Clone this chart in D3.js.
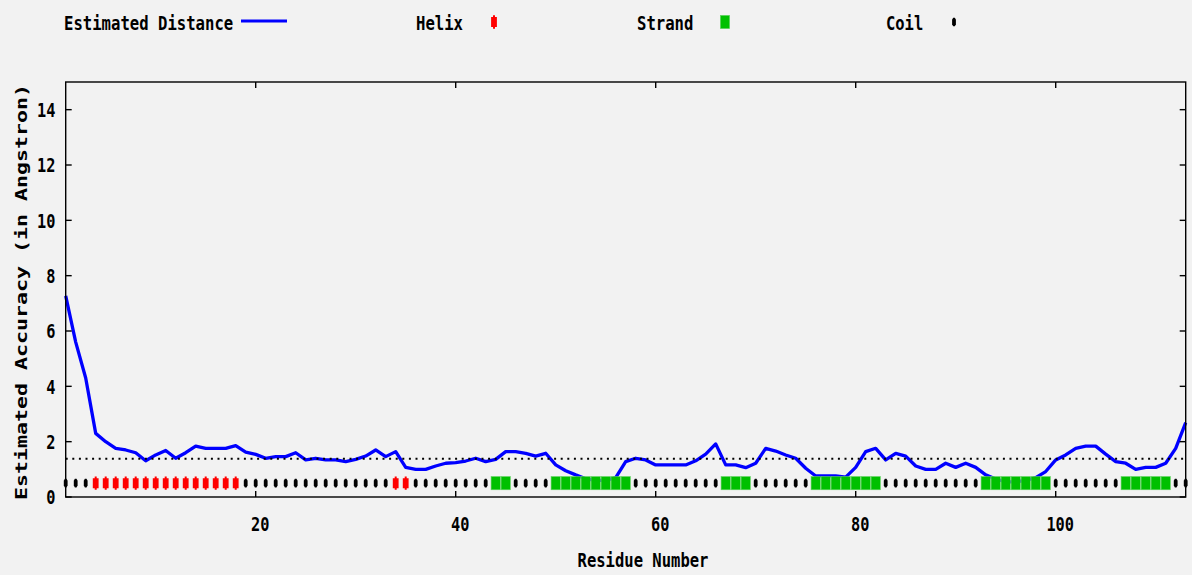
<!DOCTYPE html>
<html>
<head>
<meta charset="utf-8">
<script src="https://cdn.jsdelivr.net/npm/d3@7"></script>
<style>
  html, body { margin: 0; padding: 0; background: #f2f2f2; }
  svg { display: block; }
  text { font-family: "DejaVu Sans Mono", "Liberation Mono", monospace; font-weight: bold; fill: #000; }
</style>
</head>
<body>
<svg id="chart" width="1192" height="575"></svg>
<script>
// Estimated model distance per residue (Angstrom)
const residues = d3.range(1, 114);
const distance = [
  7.27, 5.6, 4.3, 2.3, 2.0, 1.76, 1.70, 1.60, 1.31, 1.52,
  1.68, 1.40, 1.60, 1.84, 1.76, 1.76, 1.76, 1.86, 1.62, 1.54,
  1.40, 1.46, 1.46, 1.60, 1.34, 1.40, 1.34, 1.34, 1.28, 1.36,
  1.48, 1.70, 1.46, 1.64, 1.07, 1.00, 1.00, 1.12, 1.22, 1.24,
  1.30, 1.40, 1.28, 1.36, 1.64, 1.64, 1.58, 1.48, 1.58, 1.16,
  0.95, 0.80, 0.66, 0.60, 0.60, 0.70, 1.28, 1.40, 1.34, 1.16,
  1.16, 1.16, 1.16, 1.31, 1.55, 1.92, 1.16, 1.16, 1.06, 1.22,
  1.76, 1.66, 1.52, 1.40, 1.04, 0.76, 0.76, 0.76, 0.72, 1.07,
  1.64, 1.76, 1.34, 1.58, 1.48, 1.12, 1.00, 1.00, 1.22, 1.07,
  1.22, 1.07, 0.80, 0.65, 0.55, 0.55, 0.60, 0.70, 0.92, 1.34,
  1.52, 1.76, 1.84, 1.84, 1.55, 1.28, 1.22, 1.00, 1.07, 1.07,
  1.22, 1.76, 2.69
];

// Secondary structure assignment (inclusive residue ranges); everything else is coil
const helixSegments = [[4, 18], [34, 35]];
const strandSegments = [[44, 45], [50, 57], [67, 69], [76, 82], [93, 99], [107, 111]];
const markerLevel = 0.5;   // height at which the structure markers sit
const cutoff = 1.38;       // dotted reference level

const xTicks = [20, 40, 60, 80, 100];
const yTicks = [0, 2, 4, 6, 8, 10, 12, 14];
const legendLabels = ["Estimated Distance", "Helix", "Strand", "Coil"];
const xTitle = "Residue Number";
const yTitle = "Estimated Accuracy (in Angstron)";

const COLORS = { line: "#0000ff", helix: "#ff0000", strand: "#00c000", coil: "#000000" };

const svg = d3.select("#chart");
svg.append("rect").attr("width", 1192).attr("height", 575).attr("fill", "#f2f2f2");

const plot = { left: 65.7, right: 1185.7, top: 82, bottom: 497 };
const x = d3.scaleLinear().domain([1, 113]).range([plot.left, plot.right]);
const y = d3.scaleLinear().domain([0, 15]).range([plot.bottom, plot.top]);

function inRanges(r, ranges) { return ranges.some(([a, b]) => r >= a && r <= b); }
function ssOf(r) {
  if (inRanges(r, helixSegments)) return "helix";
  if (inRanges(r, strandSegments)) return "strand";
  return "coil";
}

// marker outlines, centred on the origin
const helixPath = "M-1,-6.7L1,-6.7L1,-5L2.9,-5L2.9,5L1,5L1,6.7L-1,6.7L-1,5L-2.9,5L-2.9,-5L-1,-5Z";
const coilPath = "M-0.8,-4.3L0.8,-4.3L1.9,-2.4L1.9,2.4L0.8,4.3L-0.8,4.3L-1.9,2.4L-1.9,-2.4Z";

function drawMarker(g, type, cx, cy) {
  if (type === "helix") {
    g.append("path").attr("d", helixPath).attr("transform", `translate(${cx},${cy})`).attr("fill", COLORS.helix);
  } else if (type === "strand") {
    g.append("rect").attr("x", cx - 4.6).attr("y", cy - 6.6).attr("width", 9.2).attr("height", 13.2)
      .attr("fill", COLORS.strand).attr("stroke", "#5fd35f").attr("stroke-width", 0.6);
  } else {
    g.append("path").attr("d", coilPath).attr("transform", `translate(${cx},${cy})`).attr("fill", COLORS.coil);
  }
}

function label(g, str, px, py, anchor, perChar, size) {
  return g.append("text")
    .attr("x", px).attr("y", py)
    .attr("text-anchor", anchor)
    .attr("font-size", size || 20)
    .attr("textLength", str.length * perChar)
    .attr("lengthAdjust", "spacingAndGlyphs")
    .text(str);
}

// distance curve
const lineGen = d3.line().x((d, i) => x(residues[i])).y(d => y(d));
svg.append("path")
  .datum(distance)
  .attr("d", lineGen)
  .attr("fill", "none")
  .attr("stroke", COLORS.line)
  .attr("stroke-width", 3.3)
  .attr("stroke-linejoin", "round");

// dotted reference level
svg.append("line")
  .attr("x1", plot.left).attr("x2", plot.right)
  .attr("y1", y(cutoff)).attr("y2", y(cutoff))
  .attr("stroke", "#000").attr("stroke-width", 2)
  .attr("stroke-dasharray", "2 4.6");

// secondary structure markers
const markers = svg.append("g");
residues.forEach(r => drawMarker(markers, ssOf(r), x(r), y(markerLevel)));

// frame and ticks
const axes = svg.append("g").attr("stroke", "#000").attr("stroke-width", 1.4);
axes.append("rect")
  .attr("x", plot.left).attr("y", plot.top)
  .attr("width", plot.right - plot.left).attr("height", plot.bottom - plot.top)
  .attr("fill", "none");
yTicks.forEach(t => {
  axes.append("line").attr("x1", plot.left).attr("x2", plot.left + 6).attr("y1", y(t)).attr("y2", y(t));
  axes.append("line").attr("x1", plot.right - 6).attr("x2", plot.right).attr("y1", y(t)).attr("y2", y(t));
});
xTicks.forEach(t => {
  axes.append("line").attr("x1", x(t)).attr("x2", x(t)).attr("y1", plot.bottom).attr("y2", plot.bottom - 6);
  axes.append("line").attr("x1", x(t)).attr("x2", x(t)).attr("y1", plot.top).attr("y2", plot.top + 6);
});

// tick labels
const labels = svg.append("g");
yTicks.forEach(t => label(labels, String(t), 55.5, y(t) + 7.3, "end", 9.2));
xTicks.forEach(t => label(labels, String(t), x(t) + 4.5, 531, "middle", 9.2));

// axis titles
label(labels, xTitle, 643, 566.5, "middle", 9.35);
label(labels, yTitle, 0, 0, "middle", 13, 16.5)
  .attr("transform", "translate(27,292) rotate(-90)");

// legend
const legend = svg.append("g");
label(legend, legendLabels[0], 64, 30, "start", 9.4);
legend.append("line").attr("x1", 241).attr("x2", 287).attr("y1", 21).attr("y2", 21)
  .attr("stroke", COLORS.line).attr("stroke-width", 3);
label(legend, legendLabels[1], 416, 30, "start", 9.4);
drawMarker(legend, "helix", 494, 22);
label(legend, legendLabels[2], 637, 30, "start", 9.4);
drawMarker(legend, "strand", 725, 22);
label(legend, legendLabels[3], 886, 30, "start", 9.3);
drawMarker(legend, "coil", 954, 22);
</script>
</body>
</html>
